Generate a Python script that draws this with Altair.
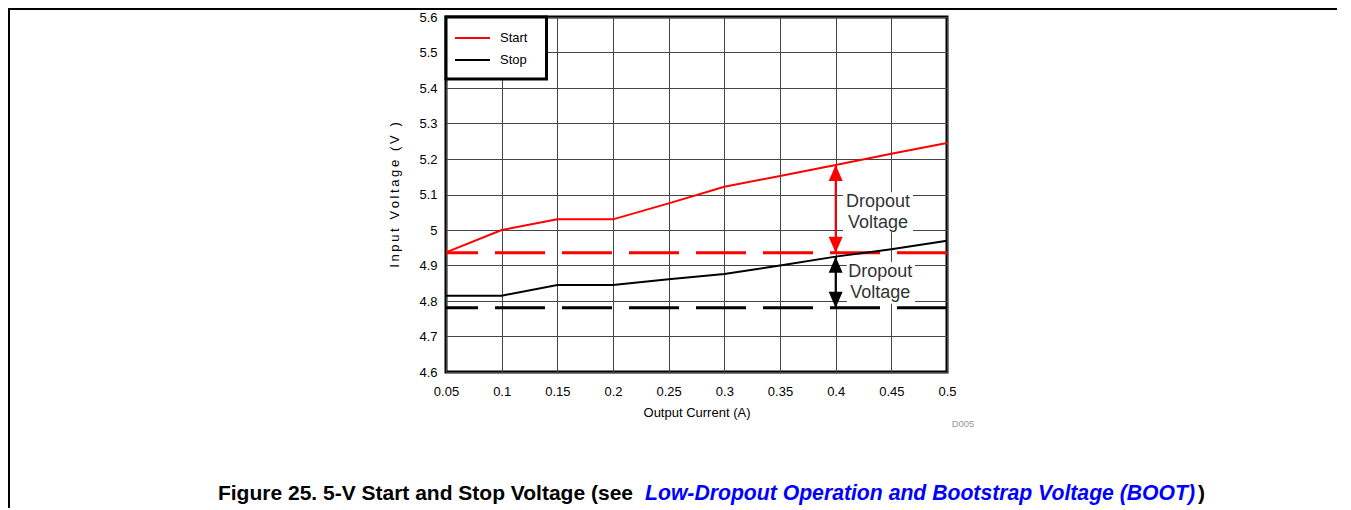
import altair as alt
import pandas as pd

# ---- data ----
current = [0.05, 0.1, 0.15, 0.2, 0.25, 0.3, 0.35, 0.4, 0.45, 0.5]
start_v = [4.937, 5.0, 5.03, 5.03, 5.075, 5.122, 5.152, 5.183, 5.215, 5.245]
stop_v = [4.815, 4.815, 4.845, 4.845, 4.861, 4.876, 4.9, 4.925, 4.946, 4.97]
series = ["Start", "Stop"]
series_colors = ["#ff0000", "#000000"]
thresholds = [4.936, 4.781]          # dashed reference levels (Start, Stop)
x_ticks = [0.05, 0.1, 0.15, 0.2, 0.25, 0.3, 0.35, 0.4, 0.45, 0.5]
y_ticks = [4.6, 4.7, 4.8, 4.9, 5.0, 5.1, 5.2, 5.3, 5.4, 5.5, 5.6]

# annotations (data space)
arrow_x = [0.4, 0.4]
arrow_top = [5.183, 4.925]
arrow_bottom = [4.936, 4.781]
label_x = [0.438, 0.440]
label_y = [5.079, 4.882]
box_x1 = [0.4066, 0.410]
box_x2 = [0.4694, 0.4713]
box_y1 = [4.994, 4.792]
box_y2 = [5.106, 4.910]
label_text = ["Dropout\nVoltage", "Dropout\nVoltage"]

caption_1 = "Figure 25. 5-V Start and Stop Voltage (see"
caption_2 = "Low-Dropout Operation and Bootstrap Voltage (BOOT)"
caption_3 = ")"
code_label = "D005"
y_title = "\u2009".join("Input Voltage (V )")

FONT = "Liberation Sans"

lines_df = pd.DataFrame({
    "current": current * 2,
    "voltage": start_v + stop_v,
    "series": [series[0]] * len(current) + [series[1]] * len(current),
})
thr_df = pd.DataFrame({"level": thresholds, "series": series})
ann_df = pd.DataFrame({
    "ax": arrow_x, "top": arrow_top, "bottom": arrow_bottom, "series": series,
    "lx": label_x, "ly": label_y, "bx1": box_x1, "bx2": box_x2,
    "by1": box_y1, "by2": box_y2, "text": label_text,
})
one = pd.DataFrame({"a": [0]})

xs = alt.Scale(domain=[0.05, 0.5], nice=False, zero=False)
ys = alt.Scale(domain=[4.6, 5.6], nice=False, zero=False)
cs = alt.Scale(domain=series, range=series_colors)

x_axis = alt.Axis(values=x_ticks, format="~g", title="Output Current (A)",
                  labelFlush=False, labelOverlap=False, labelPadding=13,
                  titlePadding=8, grid=True)
y_axis = alt.Axis(values=y_ticks, format="~g", title=y_title,
                  labelFlush=False, labelOverlap=False, labelPadding=9,
                  titlePadding=17, grid=True)
legend = alt.Legend(title=None, orient="none", legendX=8, legendY=10,
                    padding=0, symbolType="stroke", symbolSize=1225,
                    symbolStrokeWidth=2, clipHeight=22, rowPadding=0,
                    labelOffset=9, labelFontSize=13, labelColor="black",
                    labelFont=FONT)


def X(field):
    return alt.X(field, type="quantitative", scale=xs, axis=x_axis)


def Y(field):
    return alt.Y(field, type="quantitative", scale=ys, axis=y_axis)


COLOR = alt.Color("series:N", scale=cs, sort=series, legend=legend)

legend_box = alt.Chart(one).mark_rect(fill="white", stroke="black", strokeWidth=3).encode(
    x=alt.value(0), x2=alt.value(100.5), y=alt.value(0), y2=alt.value(62)
)

thr = alt.Chart(thr_df).mark_rule(strokeWidth=3, strokeDash=[50, 17]).encode(
    y=Y("level"), color=COLOR,
)

lines = alt.Chart(lines_df).mark_line(strokeWidth=2).encode(
    x=X("current"), y=Y("voltage"), color=COLOR,
)

boxes = alt.Chart(ann_df).mark_rect(fill="white").encode(
    x=X("bx1"), x2="bx2", y=Y("by1"), y2="by2",
)
labels = alt.Chart(ann_df).mark_text(fontSize=18, lineHeight=21, lineBreak="\n",
                                     align="center", baseline="middle",
                                     color="#333333", font=FONT).encode(
    x=X("lx"), y=Y("ly"), text="text:N",
)
shafts = alt.Chart(ann_df).mark_rule(strokeWidth=2).encode(
    x=X("ax"), y=Y("top"), y2="bottom", color=COLOR,
)
heads_up = alt.Chart(ann_df).mark_point(filled=True, opacity=1, size=256,
                                         shape="M0,0L0.875,2L-0.875,2Z").encode(
    x=X("ax"), y=Y("top"), color=COLOR,
)
heads_down = alt.Chart(ann_df).mark_point(filled=True, opacity=1, size=256,
                                           shape="M0,0L0.875,-2L-0.875,-2Z").encode(
    x=X("ax"), y=Y("bottom"), color=COLOR,
)

# page decorations (outside plot area)
top_line = alt.Chart(one).mark_rule(color="black", strokeWidth=2).encode(
    x=alt.value(-438), x2=alt.value(900), y=alt.value(-8)
)
left_line = alt.Chart(one).mark_rule(color="black", strokeWidth=2).encode(
    x=alt.value(-437), y=alt.value(-9), y2=alt.value(500)
)
code_txt = alt.Chart(one).mark_text(fontSize=9.5, color="#999999", font=FONT,
                                    align="center", baseline="middle").encode(
    x=alt.value(517), y=alt.value(406.5), text=alt.value(code_label)
)
cap1 = alt.Chart(one).mark_text(fontSize=21, fontWeight="bold", color="black", font=FONT,
                                align="right", baseline="alphabetic").encode(
    x=alt.value(187), y=alt.value(483), text=alt.value(caption_1)
)
cap2 = alt.Chart(one).mark_text(fontSize=21.2, fontWeight="bold", fontStyle="italic",
                                color="#0000ff", font=FONT,
                                align="left", baseline="alphabetic").encode(
    x=alt.value(199), y=alt.value(483), text=alt.value(caption_2)
)
cap3 = alt.Chart(one).mark_text(fontSize=21, fontWeight="bold", color="black", font=FONT,
                                align="left", baseline="alphabetic").encode(
    x=alt.value(752), y=alt.value(483), text=alt.value(caption_3)
)

chart = alt.layer(
    thr, lines, legend_box, boxes, labels, shafts, heads_up, heads_down,
    top_line, left_line, code_txt, cap1, cap2, cap3,
).properties(
    width=501, height=355,
    padding={"left": 438, "top": 9, "right": 390, "bottom": 136},
    autosize=alt.AutoSizeParams(type="none"),
).configure_view(
    stroke="black", strokeWidth=3
).configure_axis(
    domain=False, ticks=False, gridColor="#444444", gridWidth=1, gridOpacity=1,
    labelFont=FONT, titleFont=FONT, labelFontSize=13, titleFontSize=13,
    labelColor="black", titleColor="black", titleFontWeight="normal",
).configure_legend(
    strokeColor="transparent", fillColor="transparent"
)

chart.save("out.html", embed_options={"renderer": "svg", "actions": False})
